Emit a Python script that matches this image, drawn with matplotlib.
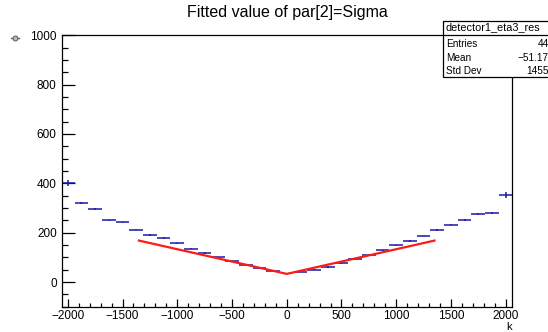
import numpy as np
import matplotlib
matplotlib.use("Agg")
import matplotlib.pyplot as plt
from matplotlib.ticker import MultipleLocator
from matplotlib.patches import Rectangle

plt.rcParams['font.family'] = ['Liberation Sans', 'DejaVu Sans']

# bin centres (k) and fitted sigma per bin
k_vals = [-2000, -1875, -1750, -1625, -1500, -1375, -1250, -1125, -1000, -875,
          -750, -625, -500, -375, -250, -125,
          125, 250, 375, 500, 625, 750, 875, 1000, 1125, 1250,
          1375, 1500, 1625, 1750, 1875, 2000]
sigma = [400, 321, 297, 250, 242, 212, 191, 179, 157, 135,
         118, 100, 84, 70, 57, 45,
         42, 50, 61, 77, 93, 110, 128, 149, 167, 185,
         211, 233, 252, 275, 280, 352]
sigma_err = [12, 4, 4, 3, 3, 3, 3, 3, 3, 3,
             3, 3, 3, 3, 3, 3,
             3, 3, 3, 3, 3, 3, 3, 3, 3, 3,
             3, 3, 3, 3, 4, 12]
bin_half = 62.5

# V-shaped fit
fit_k = [-1350, 0, 1350]
fit_sigma = [168, 33, 168]

# stats box
stats_title = "detector1_eta3_res"
stats_rows = [("Entries", "44"), ("Mean", "\u221251.17"), ("Std Dev", "1455")]

W, H = 548, 332
fig = plt.figure(figsize=(W / 100, H / 100), dpi=100)
ax = fig.add_axes([62.3 / W, 1 - 306.7 / H, (511.7 - 62.3) / W, (306.7 - 35.3) / H])

ax.errorbar(k_vals, sigma, xerr=bin_half, yerr=sigma_err, fmt='none',
            ecolor='#1a1aa8', elinewidth=1.1, capsize=0)
ax.plot(fit_k, fit_sigma, color='#ff1a1a', lw=1.6, zorder=3)

ax.set_xlim(-2050, 2055)
ax.set_ylim(-100, 1000)
ax.xaxis.set_major_locator(MultipleLocator(500))
ax.xaxis.set_minor_locator(MultipleLocator(100))
ax.yaxis.set_major_locator(MultipleLocator(200))
ax.yaxis.set_minor_locator(MultipleLocator(50))
ax.tick_params(which='both', direction='in', top=False, right=False,
               labelsize=8.5, colors='black', width=0.9)
ax.tick_params(axis='y', which='major', length=9, pad=4)
ax.tick_params(axis='y', which='minor', length=4.3)
ax.tick_params(axis='x', which='major', length=5.8, pad=2.5)
ax.tick_params(axis='x', which='minor', length=3.2)
for s in ax.spines.values():
    s.set_linewidth(0.9)

fig.text(287 / W, 1 - 12 / H, "Fitted value of par[2]=Sigma", ha='center',
         va='center', fontsize=11.5)
fig.text(511.5 / W, 1 - 327.5 / H, "k", ha='right', va='center', fontsize=8)

# little marker at top left
fig.add_artist(plt.Line2D([11.2 / W, 18.8 / W], [1 - 38.3 / H, 1 - 38.3 / H],
                          color='#666666', lw=1.0))
fig.add_artist(plt.Line2D([15 / W], [1 - 38.3 / H], marker='o', ms=3.5,
                          mfc='#bbbbbb', mec='#666666', mew=0.8, lw=0))

# stats box
bx0, bx1, by0, by1 = 442.7, 560, 21, 77.3
fig.add_artist(Rectangle((bx0 / W, 1 - by1 / H), (bx1 - bx0) / W, (by1 - by0) / H,
                         transform=fig.transFigure, fc='white', ec='black', lw=0.9))
fig.add_artist(plt.Line2D([bx0 / W, bx1 / W], [1 - 34.5 / H, 1 - 34.5 / H],
                          color='black', lw=0.9))
fig.text(446 / W, 1 - 27.5 / H, stats_title, ha='left', va='center', fontsize=7.8)
for i, (name, val) in enumerate(stats_rows):
    yy = 1 - (44 + 13.6 * i) / H
    fig.text(446 / W, yy, name, ha='left', va='center', fontsize=7.2)
    fig.text(549 / W, yy, val, ha='right', va='center', fontsize=7.2)

fig.savefig("out.png", dpi=100)
